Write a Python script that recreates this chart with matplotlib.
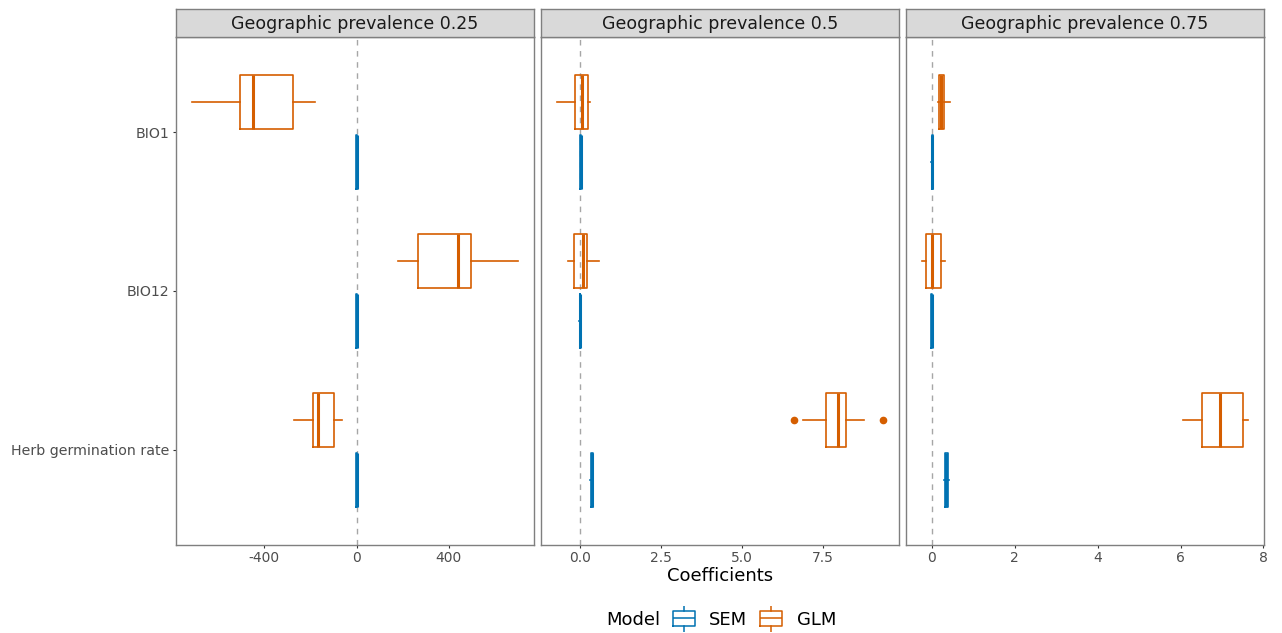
import numpy as np
import matplotlib.pyplot as plt

panels = ["Geographic prevalence 0.25", "Geographic prevalence 0.5", "Geographic prevalence 0.75"]
variables = ["Herb germination rate", "BIO12", "BIO1"]  # bottom to top
models = ["SEM", "GLM"]
colors = {"SEM": "#0072B2", "GLM": "#D55E00"}

# box stats: rows = panels, cols = variables (Herb, BIO12, BIO1)
glm_lo = [[-271, 179, -713], [6.89, -0.36, -0.70], [6.05, -0.23, 0.14]]
glm_q1 = [[-190, 268, -508], [7.58, -0.19, -0.16], [6.51, -0.13, 0.17]]
glm_med = [[-166, 440, -450], [7.97, 0.08, 0.06], [6.95, 0.00, 0.22]]
glm_q3 = [[-98, 498, -274], [8.20, 0.22, 0.25], [7.50, 0.22, 0.29]]
glm_hi = [[-62, 699, -180], [8.77, 0.59, 0.31], [7.62, 0.33, 0.43]]
glm_out = [[[], [], []], [[6.59, 9.34], [], []], [[], [], []]]

sem_lo = [[-2, -2, -2], [0.31, -0.02, 0.00], [0.30, -0.02, -0.01]]
sem_q1 = [[-1, -1, -1], [0.33, -0.01, 0.01], [0.32, -0.01, 0.00]]
sem_med = [[0, 0, 0], [0.36, 0.00, 0.02], [0.35, 0.00, 0.01]]
sem_q3 = [[1, 1, 1], [0.39, 0.01, 0.03], [0.38, 0.01, 0.02]]
sem_hi = [[2, 2, 2], [0.41, 0.02, 0.04], [0.42, 0.02, 0.03]]
sem_out = [[[], [], []], [[], [], []], [[], [], []]]

xticks = [[-400, 0, 400], [0, 2.5, 5, 7.5], [0, 2, 4, 6, 8]]
xticklabels = [["-400", "0", "400"], ["0.0", "2.5", "5.0", "7.5"], ["0", "2", "4", "6", "8"]]

stats_by_model = {
    "SEM": (sem_lo, sem_q1, sem_med, sem_q3, sem_hi, sem_out),
    "GLM": (glm_lo, glm_q1, glm_med, glm_q3, glm_hi, glm_out),
}
offsets = {"SEM": -0.1875, "GLM": 0.1875}

W, H = 1282, 633
fig = plt.figure(figsize=(W / 100, H / 100), dpi=100)

lefts = [176, 541, 906]
pw = 358
top, bottom = 37, 545
strip_top = 9
border = "#7F7F7F"
txt_grey = "#4D4D4D"

for i, title in enumerate(panels):
    ax = fig.add_axes([lefts[i] / W, 1 - bottom / H, pw / W, (bottom - top) / H])
    ax.axvline(0, color="#A6A6A6", ls=(0, (4, 4)), lw=1.0, zorder=0)

    allvals = []
    for m in models:
        lo, q1, med, q3, hi, out = stats_by_model[m]
        stats = []
        for j in range(len(variables)):
            stats.append(dict(whislo=lo[i][j], q1=q1[i][j], med=med[i][j],
                              q3=q3[i][j], whishi=hi[i][j], fliers=out[i][j]))
            allvals += [lo[i][j], hi[i][j]] + list(out[i][j])
        c = colors[m]
        pos = np.arange(1, len(variables) + 1) + offsets[m]
        ax.bxp(stats, positions=pos, widths=0.34, orientation="horizontal",
               showcaps=False, manage_ticks=False,
               boxprops=dict(color=c, lw=1.2),
               whiskerprops=dict(color=c, lw=1.2),
               medianprops=dict(color=c, lw=2.2),
               flierprops=dict(marker="o", mfc=c, mec=c, ms=4.5))

    lo_all, hi_all = min(allvals), max(allvals)
    pad = 0.05 * (hi_all - lo_all)
    ax.set_xlim(lo_all - pad, hi_all + pad)
    ax.set_ylim(0.4, len(variables) + 0.6)
    ax.set_xticks(xticks[i])
    ax.set_xticklabels(xticklabels[i], fontsize=10, color=txt_grey)
    ax.set_yticks(np.arange(1, len(variables) + 1))
    ax.tick_params(length=2.5, width=0.8, color="#333333", pad=2)
    if i == 0:
        ax.set_yticklabels(variables, fontsize=10.2, color=txt_grey)
    else:
        ax.set_yticklabels([])
        ax.tick_params(axis="y", length=0)
    for s in ax.spines.values():
        s.set_color(border)
        s.set_linewidth(1.0)

    # facet strip
    sax = fig.add_axes([lefts[i] / W, 1 - top / H, pw / W, (top - strip_top) / H])
    sax.set_facecolor("#D9D9D9")
    sax.set_xticks([])
    sax.set_yticks([])
    for s in sax.spines.values():
        s.set_color(border)
        s.set_linewidth(1.0)
    sax.text(0.5, 0.45, title, ha="center", va="center", fontsize=12.5,
             color="#1A1A1A", transform=sax.transAxes)

fig.text(720 / W, 1 - 576 / H, "Coefficients", ha="center", va="center",
         fontsize=13, color="black")

# legend
fig.text(606 / W, 1 - 620 / H, "Model", ha="left", va="center", fontsize=13)
key_x = {"SEM": 672, "GLM": 759}
label_x = {"SEM": 709, "GLM": 797}
for m in models:
    kax = fig.add_axes([key_x[m] / W, 1 - 632 / H, 24 / W, 26 / H])
    c = colors[m]
    kax.bxp([dict(whislo=0, q1=0.24, med=0.52, q3=0.8, whishi=1, fliers=[])],
            positions=[0.5], widths=0.92, showcaps=False,
            boxprops=dict(color=c, lw=1.1), whiskerprops=dict(color=c, lw=1.1),
            medianprops=dict(color=c, lw=1.1))
    kax.set_xlim(0, 1)
    kax.set_ylim(0, 1)
    kax.axis("off")
    fig.text(label_x[m] / W, 1 - 620 / H, m, ha="left", va="center", fontsize=13)

fig.savefig("out.png", dpi=100)
